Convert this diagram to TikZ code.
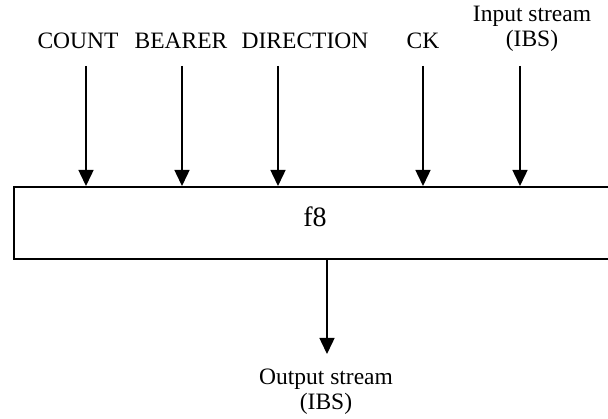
\documentclass[tikz,border=0pt]{standalone}
\usepackage{fontspec}
\setmainfont{Liberation Serif}
\usetikzlibrary{arrows.meta}
\begin{document}
\begin{tikzpicture}[x=1pt,y=-1pt,
    signal/.style={line width=1.5pt,-{Triangle[length=16pt,width=15pt]}},
    lbl/.style={font=\fontsize{23.5}{25}\selectfont,inner sep=0pt,align=center},
    fbox/.style={draw,line width=1.6pt,minimum width=600pt,minimum height=72pt,inner sep=0pt,anchor=north west}]
  \useasboundingbox (0,0) rectangle (608,419);
  % function block (its right side runs past the page edge)
  \node[fbox] (f) at (13,186) {};
  \node[font=\fontsize{28}{30}\selectfont,inner sep=0pt,anchor=base] (f8) at (315,227) {f8};
  % input labels
  \node[lbl,anchor=base] (count) at (78,49) {COUNT};
  \node[lbl,anchor=base] (bearer) at (181,49) {BEARER};
  \node[lbl,anchor=base] (dir) at (305,49) {DIRECTION};
  \node[lbl,anchor=base] (ck) at (423,49) {CK};
  \node[lbl,anchor=north] (ibsin) at (532,6) {Input stream\\(IBS)};
  % output label
  \node[lbl,anchor=north] (ibsout) at (326,369) {Output stream\\(IBS)};
  % arrow tails
  \coordinate (tcount) at (86,66);
  \coordinate (tbearer) at (182,66);
  \coordinate (tdir) at (278,66);
  \coordinate (tck) at (423,66);
  \coordinate (tibs) at (520,66);
  \coordinate (oend) at (327,354);
  % inputs into the block
  \foreach \t in {tcount,tbearer,tdir,tck,tibs}
    \draw[signal] (\t) -- (\t |- f.north);
  % output from the block
  \draw[signal] (oend |- f.south) -- (oend);
\end{tikzpicture}
\end{document}
